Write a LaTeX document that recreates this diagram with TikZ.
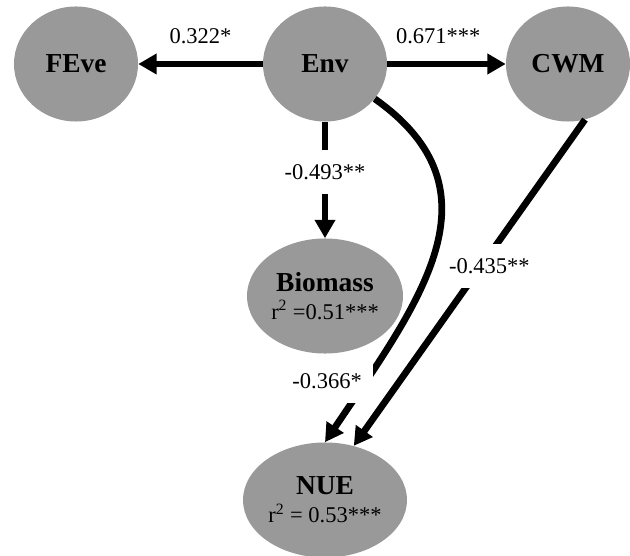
\documentclass[tikz,border=0pt]{standalone}
\usepackage{fontspec}
\setmainfont{Liberation Serif}
\usepackage{tikz}
\usetikzlibrary{arrows.meta}
\usetikzlibrary{positioning,shapes.geometric}
\tikzset{
    factor/.style={
        ellipse,
        fill=black!40,
        minimum width=3.1cm,
        minimum height=2.875cm,
        inner sep=1pt,
        align=center,
        font=\fontsize{16}{17}\selectfont
    },
    effect/.style={
        draw,
        line width=4.8pt,
        -{Triangle[length=13pt, width=14pt]}
    }
}

\begin{document}
\begin{tikzpicture}[x=0.025cm, y=-0.025cm]
  \tikzset{
    coeflabel/.style={
      font=\fontsize{16}{17}\selectfont,
      inner sep=2pt,
    },
    gaplabel/.style={
      coeflabel,
      fill=white,
      minimum height=1.1cm,
    }
  }
  \useasboundingbox (0,0) rectangle (630,556);

  % Factors
  \node[factor] (feve) at (76,64) {\textbf{\fontsize{19.5}{19.5}\selectfont FEve}};
  \node[factor] (env) at (325,64) {\textbf{\fontsize{19.5}{19.5}\selectfont Env}};
  \node[factor] (cwm) at (568,64) {\textbf{\fontsize{19.5}{19.5}\selectfont CWM}};
  \node[factor] (biomass) at (325,296) {\textbf{\fontsize{19.5}{19.5}\selectfont Biomass}\\[3pt]r\textsuperscript{2} =0.51***};
  \node[factor] (nue) at (325,500) {\textbf{\fontsize{19.5}{19.5}\selectfont NUE}\\[3pt]r\textsuperscript{2} = 0.53***};

  % Paths from Env
  \draw[effect] (env) -- (feve) node[coeflabel, midway, above=10pt] {0.322*};
  \draw[effect] (env) -- (cwm) node[coeflabel, pos=0.43, above=10pt] {0.671***};
  \draw[effect] (env) -- (biomass) node[gaplabel, pos=0.43] {-0.493**};
  \draw[effect] (env.-35) .. controls (505,191) and (420,301) .. (nue.north)
    node[gaplabel, pos=0.85, xshift=-0.98cm, minimum width=2.3cm] {-0.366*};

  % Path from CWM
  \draw[effect] (cwm.-73) -- (nue.62) node[gaplabel, pos=0.45, xshift=6pt] {-0.435**};
\end{tikzpicture}
\end{document}
